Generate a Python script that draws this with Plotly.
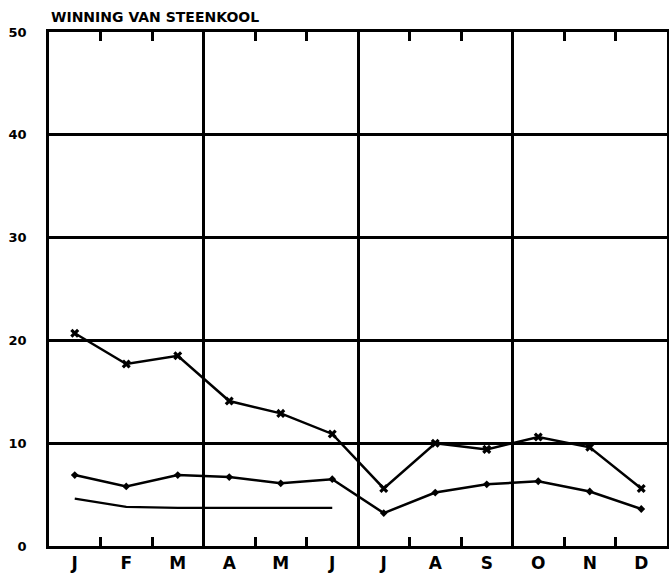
import plotly.graph_objects as go

months = ["J", "F", "M", "A", "M", "J", "J", "A", "S", "O", "N", "D"]
x_pos = [0.5, 1.5, 2.5, 3.5, 4.5, 5.5, 6.5, 7.5, 8.5, 9.5, 10.5, 11.5]
series_top = [20.7, 17.7, 18.5, 14.1, 12.9, 10.9, 5.6, 10.0, 9.4, 10.6, 9.6, 5.6]
series_mid = [6.9, 5.8, 6.9, 6.7, 6.1, 6.5, 3.2, 5.2, 6.0, 6.3, 5.3, 3.6]
series_low = [4.6, 3.8, 3.7, 3.7, 3.7, 3.7]
y_ticks = [0, 10, 20, 30, 40, 50]
quarter_lines = [3, 6, 9]
inner_ticks = [1, 2, 4, 5, 7, 8, 10, 11]
title_text = "WINNING VAN STEENKOOL"

fig = go.Figure()
# empty trace so the overlay axis carrying the quarter grid lines is drawn
fig.add_trace(go.Scatter(x=[], y=[], xaxis="x2", showlegend=False, hoverinfo="skip"))
fig.add_trace(go.Scatter(x=x_pos, y=series_top, mode="lines+markers",
                         line=dict(color="black", width=2.5),
                         marker=dict(symbol="x", size=8, color="black")))
fig.add_trace(go.Scatter(x=x_pos, y=series_mid, mode="lines+markers",
                         line=dict(color="black", width=2.5),
                         marker=dict(symbol="diamond", size=6, color="black")))
fig.add_trace(go.Scatter(x=x_pos[:len(series_low)], y=series_low, mode="lines",
                         line=dict(color="black", width=2.2)))

fig.update_layout(
    width=669, height=573,
    margin=dict(l=49, r=2, t=32, b=27),
    paper_bgcolor="white", plot_bgcolor="white",
    showlegend=False,
    font=dict(family="DejaVu Sans", color="black"),
    xaxis=dict(range=[0, 12], tickmode="array", tickvals=x_pos, ticktext=months,
               ticks="", showgrid=False, zeroline=False, automargin=False,
               showline=True, linecolor="black", linewidth=2.5, mirror="ticks",
               tickfont=dict(size=17, weight="bold"),
               minor=dict(tickmode="array", tickvals=inner_ticks,
                          ticks="inside", ticklen=9, tickwidth=2.5, tickcolor="black",
                          showgrid=False)),
    xaxis2=dict(range=[0, 12], overlaying="x", tickmode="array",
                tickvals=quarter_lines, showgrid=True, gridcolor="black", gridwidth=2.5,
                showticklabels=False, ticks="", zeroline=False, showline=False,
                automargin=False),
    yaxis=dict(range=[0, 50], tickmode="array", tickvals=y_ticks,
               showgrid=True, gridcolor="black", gridwidth=2.5, zeroline=False,
               showline=True, linecolor="black", linewidth=2.5, mirror=True,
               ticks="", ticklabelstandoff=17, automargin=False,
               tickfont=dict(size=13, weight="bold")),
    annotations=[dict(text=title_text, xref="paper", yref="paper", x=0, y=1,
                      xanchor="left", yanchor="bottom", yshift=5, showarrow=False,
                      font=dict(size=14, weight="bold"))],
)

fig.write_html("out.html", config={"displayModeBar": False},
               post_script="document.body.style.margin='0';document.body.style.overflow='hidden';")
